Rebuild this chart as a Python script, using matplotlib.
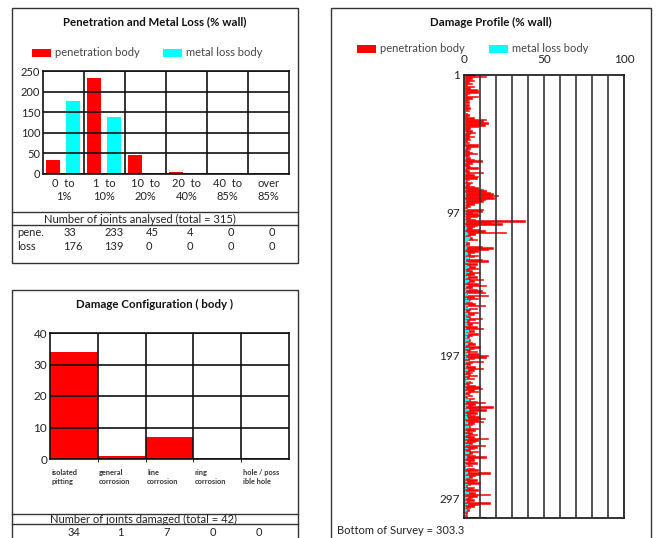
import matplotlib
matplotlib.use("Agg")
import matplotlib.pyplot as plt
from matplotlib.patches import Rectangle
from matplotlib.lines import Line2D
from matplotlib.transforms import blended_transform_factory
import numpy as np

plt.rcParams['font.family'] = ['Lato', 'DejaVu Sans']

# ---------------- data ----------------
pen_categories = ["0  to\n1%", "1  to\n10%", "10  to\n20%", "20  to\n40%", "40  to\n85%", "over\n85%"]
pen_counts = [33, 233, 45, 4, 0, 0]
loss_counts = [176, 139, 0, 0, 0, 0]
pen_total = 315

cfg_categories = ["isolated\npitting", "general\ncorrosion", "line\ncorrosion", "ring\ncorrosion", "hole / poss\nible hole"]
cfg_counts = [34, 1, 7, 0, 0]
cfg_total = 42

profile_yticks = [1, 97, 197, 297]
profile_xticks = [0, 50, 100]
bottom_of_survey = 303.3

profile_pen = [
    7, 14, 5, 4, 6, 3, 5, 2, 6, 4, 8, 9, 9, 3, 2,
    9, 5, 3, 2, 3, 0.5, 3, 2, 4, 2, 3, 0.5, 2, 3, 2,
    6, 14, 12, 15, 15, 13, 9, 4, 3, 5, 7, 4, 3, 6, 3,
    4, 2, 3, 0.5, 9, 9, 4, 2, 3, 5, 8, 3, 2, 4, 6,
    11, 5, 5, 3, 4, 9, 2, 3, 12, 4, 6, 9, 8, 3, 2,
    5, 4, 3, 6, 9, 12, 14, 16, 18, 21, 17, 19, 13, 12, 9,
    6, 3, 4, 2, 12, 11, 5, 9, 10, 8, 4, 7, 38, 17, 24,
    8, 6, 5, 10, 13, 26, 7, 4, 3, 5, 8, 2, 3, 3, 0.5,
    11, 18, 15, 9, 6, 4, 9, 6, 3, 11, 15, 2, 8, 4, 7,
    9, 3, 5, 10, 6, 3, 8, 4, 12, 6, 3, 9, 14, 5, 4,
    8, 11, 13, 2, 15, 6, 9, 4, 3, 5, 7, 13, 2, 8, 4,
    3, 9, 6, 0.5, 4, 11, 7, 3, 9, 5, 4, 8, 12, 3, 6,
    2, 9, 5, 3, 0.5, 4, 2, 5, 7, 3, 10, 6, 4, 8, 3,
    9, 15, 14, 6, 3, 12, 5, 4, 2, 7, 12, 6, 3, 5, 4,
    8, 3, 6, 0.5, 4, 5, 3, 7, 10, 11, 6, 9, 4, 3, 5,
    2, 6, 4, 8, 13, 7, 5, 18, 9, 14, 6, 8, 4, 7, 10,
    13, 9, 12, 6, 5, 3, 4, 9, 7, 3, 5, 8, 4, 6, 15,
    9, 7, 5, 3, 13, 8, 6, 4, 9, 5, 3, 7, 14, 6, 6,
    4, 8, 3, 5, 0.5, 6, 9, 4, 16, 10, 7, 5, 3, 8, 6,
    10, 4, 2, 6, 5, 9, 3, 7, 16, 8, 5, 4, 6, 3, 16,
    9, 6, 4, 2, 3, 2, 2, 1, 2, 14, 0.5, 0.5, 0.5, 0.5, 0.5,
]
profile_loss = [
    0.5, 0.8, 0.4, 0.6, 0.5, 0.7, 0.5, 0.4, 0.6, 0.5, 0.8, 0.6, 0.5, 0.4, 0.7,
    0.6, 0.5, 0.8, 0.4, 0.6, 0.5, 0.7, 0.4, 0.6, 0.5, 0.8, 0.4, 0.6, 0.5, 0.7,
    0.8, 0.6, 0.9, 0.7, 0.5, 0.6, 0.4, 0.8, 0.5, 0.6, 1.2, 0.5, 0.7, 0.6, 0.8,
    0.5, 0.9, 0.6, 0.7, 0.5, 0.8, 1.1, 0.6, 0.5, 0.7, 0.6, 0.8, 0.5, 1.0, 0.6,
    0.7, 1.2, 0.5, 0.8, 0.6, 1.0, 0.7, 0.9, 0.6, 1.3, 0.8, 0.5, 0.7, 0.9, 1.1,
    0.6, 0.8, 1.2, 0.7, 0.9, 1.4, 0.8, 0.6, 1.0, 0.7, 1.2, 0.9, 0.6, 1.5, 0.8,
    1.0, 0.7, 1.3, 0.9, 1.6, 0.8, 1.1, 0.7, 1.4, 0.9, 1.2, 0.8, 1.5, 1.0, 0.9,
    1.3, 0.8, 1.8, 1.1, 0.9, 1.6, 2.2, 1.4, 0.8, 3.5, 3.2, 2.8, 1.5, 1.2, 0.9,
    1.4, 2.0, 1.1, 0.8, 1.6, 2.5, 1.2, 0.9, 3.0, 1.5, 1.1, 2.4, 0.8, 1.7, 2.9,
    2.1, 0.9, 1.5, 3.2, 1.0, 0.7, 2.6, 1.3, 0.8, 3.0, 1.8, 0.6, 2.2, 1.1, 0.9,
    3.1, 1.4, 0.7, 2.0, 2.8, 0.9, 1.6, 0.6, 3.3, 1.2, 0.8, 2.4, 1.0, 2.9, 0.7,
    1.5, 0.6, 2.7, 0.9, 1.3, 3.0, 0.8, 2.1, 0.6, 1.7, 2.5, 0.9, 1.2, 0.7, 3.2,
    1.0, 2.3, 0.6, 1.8, 0.8, 2.9, 1.1, 0.7, 2.5, 1.4, 0.6, 3.1, 0.9, 1.6, 0.8,
    2.6, 0.7, 1.3, 2.2, 0.6, 3.0, 1.0, 0.8, 2.0, 1.5, 0.7, 2.8, 0.9, 1.2, 0.6,
    2.4, 0.8, 1.7, 0.6, 3.2, 1.1, 0.7, 2.1, 0.9, 1.4, 0.6, 2.7, 1.0, 0.8, 2.3,
    0.7, 1.5, 2.9, 0.8, 1.2, 0.6, 2.5, 1.0, 0.7, 3.0, 1.3, 0.8, 2.0, 0.6, 1.6,
    2.8, 0.7, 1.1, 2.3, 0.9, 0.6, 3.1, 1.4, 0.8, 1.9, 0.6, 2.6, 1.0, 0.7, 2.2,
    0.9, 1.6, 0.6, 2.9, 1.2, 0.8, 2.4, 0.7, 1.3, 3.0, 0.9, 0.6, 2.1, 1.5, 0.8,
    2.5, 0.7, 1.1, 2.8, 0.6, 1.9, 0.9, 0.7, 2.3, 1.4, 0.6, 3.2, 1.0, 0.8, 1.7,
    0.6, 2.6, 1.2, 0.8, 2.0, 0.7, 1.5, 2.9, 0.9, 0.6, 2.2, 1.1, 0.8, 1.8, 0.7,
    2.4, 0.9, 1.3, 0.6, 2.0, 1.2, 0.8, 1.5, 0.7, 2.0, 0.5, 0.5, 0.5, 0.5, 0.5,
]

RED = '#ff0000'
CYAN = '#00ffff'
TXT = '#222222'
FS = 8

W, H = 659, 538
fig = plt.figure(figsize=(W / 100, H / 100), dpi=100)
fig.patch.set_facecolor('white')


def fx(x):
    return x / W


def fy(y):
    return 1 - y / H


def ax_rect(l, t, r, b):
    return [fx(l), fy(b), (r - l) / W, (b - t) / H]


def frame(l, t, r, b, lw=1.0, color='#333333'):
    fig.add_artist(Rectangle((fx(l), fy(b)), (r - l) / W, (b - t) / H,
                             transform=fig.transFigure, fill=False, lw=lw, ec=color))


def hline(y, l, r, lw=1.0, color='#333333'):
    fig.add_artist(Line2D([fx(l), fx(r)], [fy(y), fy(y)], transform=fig.transFigure,
                          lw=lw, color=color))


def legend_item(x, y, color, label):
    fig.add_artist(Rectangle((fx(x), fy(y + 4)), 19 / W, 8 / H, transform=fig.transFigure,
                             fc=color, ec='none'))
    fig.text(fx(x + 23), fy(y - 1), label, fontsize=8, color='#444444', va='center', ha='left')


def style_axes(ax):
    for s in ax.spines.values():
        s.set_linewidth(1.2)
        s.set_color('#111111')
    ax.tick_params(length=0, labelsize=FS, labelcolor=TXT, pad=2)
    ax.set_axisbelow(False)


# ---------------- Panel 1: Penetration and Metal Loss ----------------
frame(12, 8, 298, 263)
fig.text(fx(155), fy(22), "Penetration and Metal Loss (% wall)", fontsize=8.3,
         fontweight='bold', ha='center', va='center', color='#111111')
legend_item(32, 53, RED, "penetration body")
legend_item(163, 53, CYAN, "metal loss body")

ax1 = fig.add_axes(ax_rect(43, 71, 289, 174))
x = np.arange(len(pen_categories))
ax1.bar(x - 0.26, pen_counts, width=0.34, color=RED, zorder=1)
ax1.bar(x + 0.23, loss_counts, width=0.34, color=CYAN, zorder=1)
ax1.set_xlim(-0.5, len(pen_categories) - 0.5)
ax1.set_ylim(0, 250)
ax1.set_yticks(range(0, 251, 50))
ax1.set_xticks(x)
ax1.set_xticklabels(pen_categories, fontsize=FS, linespacing=1.2)
ax1.set_xticks(x[:-1] + 0.5, minor=True)
ax1.grid(True, which='minor', axis='x', color='#111111', lw=1.2, zorder=3)
ax1.grid(True, which='major', axis='y', color='#111111', lw=1.2, zorder=3)
style_axes(ax1)
ax1.tick_params(axis='x', which='both', length=0, pad=3)

hline(212, 12, 298)
hline(225, 12, 298)
fig.text(fx(140), fy(219), f"Number of joints analysed (total = {pen_total})", fontsize=FS,
         ha='center', va='center', color=TXT)
tr1 = blended_transform_factory(ax1.transData, fig.transFigure)
fig.text(fx(17), fy(233), "pene.", fontsize=FS, ha='left', va='center', color=TXT)
fig.text(fx(17), fy(247), "loss", fontsize=FS, ha='left', va='center', color=TXT)
for i, (p, l) in enumerate(zip(pen_counts, loss_counts)):
    ax1.text(i, fy(233), str(p), transform=tr1, fontsize=FS, ha='left', va='center', color=TXT)
    ax1.text(i, fy(247), str(l), transform=tr1, fontsize=FS, ha='left', va='center', color=TXT)

# ---------------- Panel 2: Damage Configuration ----------------
frame(12, 290, 298, 560)
fig.text(fx(155), fy(304), "Damage Configuration ( body )", fontsize=8.3,
         fontweight='bold', ha='center', va='center', color='#111111')
ax2 = fig.add_axes(ax_rect(50, 333, 289, 459))
x2 = np.arange(len(cfg_categories))
ax2.bar(x2 + 0.5, cfg_counts, width=1.0, color=RED, zorder=1)
ax2.set_xlim(0, len(cfg_categories))
ax2.set_ylim(0, 40)
ax2.set_yticks(range(0, 41, 10))
ax2.set_xticks(x2[1:], minor=True)
ax2.set_xticks([])
ax2.grid(True, which='minor', axis='x', color='#111111', lw=1.2, zorder=3)
ax2.grid(True, which='major', axis='y', color='#111111', lw=1.2, zorder=3)
style_axes(ax2)
ax2.tick_params(labelsize=8.5)
tr2 = blended_transform_factory(ax2.transData, fig.transFigure)
for i, lab in enumerate(cfg_categories):
    ax2.text(i + 0.03, fy(469), lab, transform=tr2, fontsize=5.3, fontweight='bold',
             ha='left', va='top', color='#333333', linespacing=1.35)

hline(514, 12, 298)
hline(524, 12, 298)
fig.text(fx(144), fy(519), f"Number of joints damaged (total = {cfg_total})", fontsize=FS,
         ha='center', va='center', color=TXT)
for i, c in enumerate(cfg_counts):
    ax2.text(i + 0.5 - 0.03 * i, fy(533), str(c), transform=tr2, fontsize=FS,
             ha='center', va='center', color=TXT)

# ---------------- Panel 3: Damage Profile ----------------
frame(331, 8, 651, 560)
fig.text(fx(491), fy(22), "Damage Profile (% wall)", fontsize=8.3,
         fontweight='bold', ha='center', va='center', color='#111111')
legend_item(357, 49, RED, "penetration body")
legend_item(489, 49, CYAN, "metal loss body")

ax3 = fig.add_axes(ax_rect(464, 75, 624, 518))
joints = np.arange(1, len(profile_pen) + 1)
ax3.barh(joints, profile_pen, height=1.0, color=RED, ec=RED, lw=0.4, zorder=1)
ax3.barh(joints, profile_loss, height=1.0, color=CYAN, ec=CYAN, lw=0.3, zorder=1.5)
ax3.set_xlim(0, 100)
ax3.set_ylim(310.5, 1)
ax3.xaxis.tick_top()
ax3.set_xticks(profile_xticks)
ax3.set_xticks(range(10, 100, 10), minor=True)
ax3.set_yticks(profile_yticks)
ax3.grid(True, which='both', axis='x', color='#333333', lw=1.2, zorder=3)
style_axes(ax3)
ax3.tick_params(labelsize=8.5, which='both', length=0)
ax3.tick_params(axis='x', pad=7)
ax3.tick_params(axis='y', pad=3)
fig.text(fx(337), fy(531), f"Bottom of Survey = {bottom_of_survey}", fontsize=FS,
         ha='left', va='center', color=TXT)

fig.savefig("out.png", dpi=100, facecolor='white')
